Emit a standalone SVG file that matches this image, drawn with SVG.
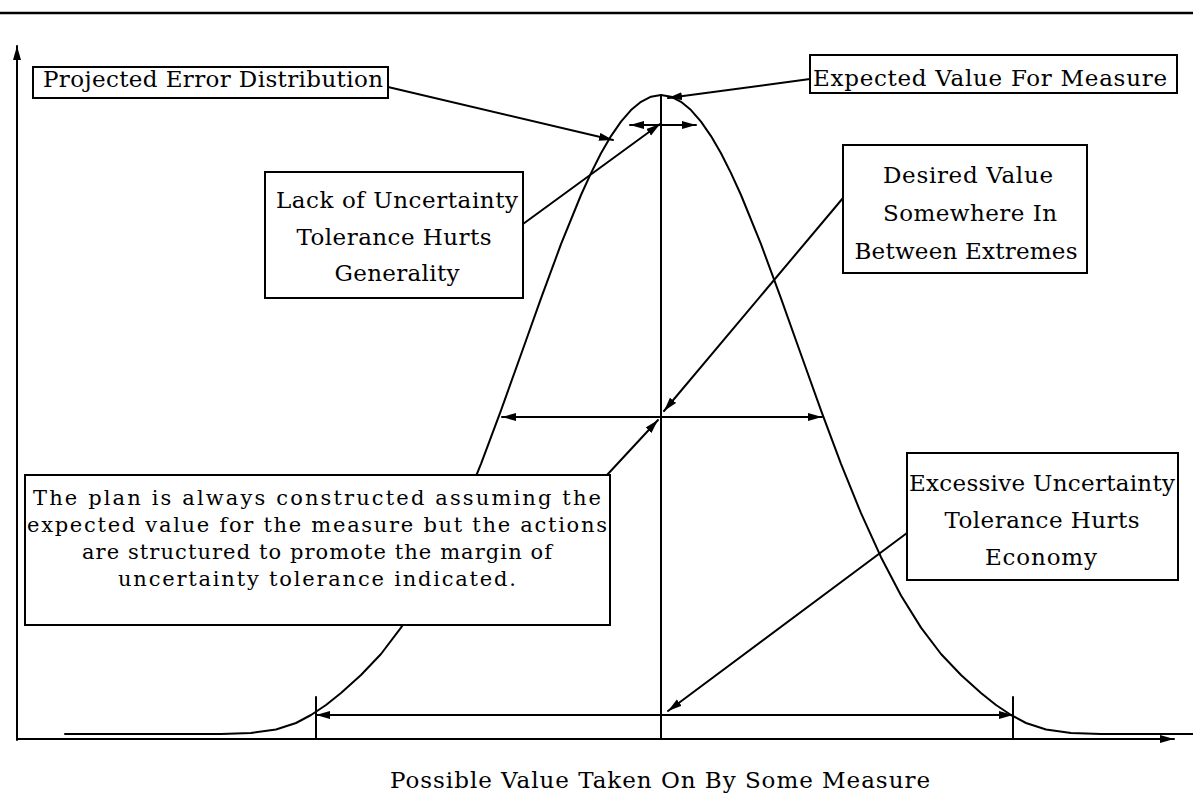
<svg xmlns="http://www.w3.org/2000/svg" width="1193" height="795" viewBox="0 0 1193 795">
<defs>
<style>
.ln{fill:none;stroke:#000;stroke-width:2;stroke-linecap:round;stroke-linejoin:round}
.box{fill:#fff;stroke:#000;stroke-width:2}
.t{font-family:"DejaVu Serif","Liberation Serif",serif;font-size:23px;fill:#000}
.tb{font-family:"DejaVu Serif","Liberation Serif",serif;font-size:21px;fill:#000}
.c{text-anchor:middle}
</style>
<marker id="ah" markerUnits="userSpaceOnUse" markerWidth="16" markerHeight="10" refX="14" refY="4" orient="auto-start-reverse">
<path d="M0,0 L14,4 L0,8 z" fill="#000"/>
</marker>
</defs>
<rect width="1193" height="795" fill="#fff"/>
<g id="frame">
<line x1="0" y1="13" x2="1193" y2="13" stroke="#000" stroke-width="2.5"/>
<line class="ln" x1="17" y1="740" x2="17" y2="46" marker-end="url(#ah)"/>
<line class="ln" x1="17" y1="739" x2="1174" y2="739" marker-end="url(#ah)"/>
<line class="ln" x1="661" y1="95" x2="661" y2="739"/>
<line class="ln" x1="316" y1="697" x2="316" y2="739"/>
<line class="ln" x1="1013" y1="697" x2="1013" y2="739"/>
<polyline id="curve" class="ln" points="65,734 221,734 251,733 276,729.5 296,723 311,715 326,705 341,693 361,675 381,654 401,627.6 421,595.5 441,557.2 461,513.2 481,463.8 501,410.4 521,354.5 541,298.3 561,244.2 581,195 591,173.1 601,153.3 611,136.1 621,121.6 631,110.1 641,101.8 651,96.7 661,95 671,96.7 681,101.8 691,110.1 701,121.6 711,136.1 721,153.3 731,173.1 741,195 761,244.2 781,298.3 801,354.5 821,410.4 841,463.8 861,513.2 881,557.2 901,595.5 921,627.6 941,654 961,675 981,693 996,705 1011,715 1026,723 1046,729.5 1071,733 1101,734 1193,734"/>
<text class="t c" x="660" y="788" font-size="22" textLength="540" lengthAdjust="spacing">Possible Value Taken On By Some Measure</text>
</g>
<g id="connectors">
<line class="ln" x1="388" y1="87" x2="613" y2="140" marker-end="url(#ah)"/>
<line class="ln" x1="810" y1="79" x2="668" y2="98" marker-end="url(#ah)"/>
<line class="ln" x1="523" y1="224" x2="660" y2="124" marker-end="url(#ah)"/>
<line class="ln" x1="630" y1="125" x2="696" y2="125" marker-start="url(#ah)" marker-end="url(#ah)"/>
<line class="ln" x1="843" y1="198" x2="664" y2="411" marker-end="url(#ah)"/>
<line class="ln" x1="607" y1="475" x2="658" y2="420" marker-end="url(#ah)"/>
<line class="ln" x1="502" y1="417" x2="822" y2="417" marker-start="url(#ah)" marker-end="url(#ah)"/>
<line class="ln" x1="907" y1="533" x2="668" y2="711" marker-end="url(#ah)"/>
<line class="ln" x1="316" y1="715" x2="1013" y2="715" marker-start="url(#ah)" marker-end="url(#ah)"/>
</g>
<g id="projected">
<rect class="box" x="33" y="67" width="355" height="31"/>
<text class="t" x="43" y="87" font-size="21" textLength="340" lengthAdjust="spacing">Projected Error Distribution</text>
</g>
<g id="expected">
<rect class="box" x="810" y="55" width="367" height="38"/>
<text class="t" x="813" y="86" font-size="22" textLength="354" lengthAdjust="spacing">Expected Value For Measure</text>
</g>
<g id="lack">
<rect class="box" x="265" y="172" width="258" height="126"/>
<text class="t c" x="397" y="208" textLength="242" lengthAdjust="spacing">Lack of Uncertainty</text>
<text class="t c" x="394" y="245" textLength="195" lengthAdjust="spacing">Tolerance Hurts</text>
<text class="t c" x="397" y="281" textLength="125" lengthAdjust="spacing">Generality</text>
</g>
<g id="desired">
<rect class="box" x="843" y="145" width="244" height="128"/>
<text class="t c" x="968" y="183" textLength="170" lengthAdjust="spacing">Desired Value</text>
<text class="t c" x="970" y="221" textLength="174" lengthAdjust="spacing">Somewhere In</text>
<text class="t c" x="966" y="259" textLength="223" lengthAdjust="spacing">Between Extremes</text>
</g>
<g id="plan">
<rect class="box" x="25" y="475" width="585" height="150"/>
<text class="tb c" x="317" y="505" textLength="568" lengthAdjust="spacing">The plan is always constructed assuming the</text>
<text class="tb c" x="317" y="532" textLength="580" lengthAdjust="spacing">expected value for the measure but the actions</text>
<text class="tb c" x="317" y="559" textLength="470" lengthAdjust="spacing">are structured to promote the margin of</text>
<text class="tb c" x="317" y="586" textLength="398" lengthAdjust="spacing">uncertainty tolerance indicated.</text>
</g>
<g id="excessive">
<rect class="box" x="907" y="453" width="271" height="127"/>
<text class="t c" x="1042" y="491" textLength="266" lengthAdjust="spacing">Excessive Uncertainty</text>
<text class="t c" x="1042" y="528" textLength="195" lengthAdjust="spacing">Tolerance Hurts</text>
<text class="t c" x="1041" y="565" textLength="112" lengthAdjust="spacing">Economy</text>
</g>
</svg>
